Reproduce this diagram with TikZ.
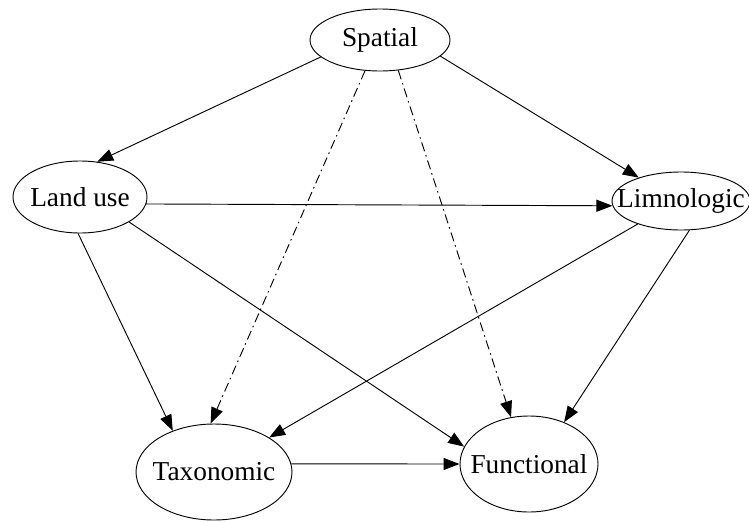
\documentclass[tikz,border=0pt]{standalone}
\usepackage{fontspec}
\setmainfont{Liberation Serif}
\usetikzlibrary{shapes.geometric,arrows.meta}
\begin{document}
\begin{tikzpicture}[x=0.75pt,y=-0.75pt,
  ell/.style={draw,ellipse,inner sep=0pt,line width=0.7pt},
  lbl/.style={inner sep=0pt,font=\fontsize{20.5}{24}\selectfont},
  edge/.style={line width=0.7pt,-{Triangle[length=12pt,width=9pt]}},
  dashdot/.style={dash pattern=on 7pt off 3pt on 1.2pt off 3pt}]
\useasboundingbox (0,0) rectangle (749,521);
\node[ell,minimum width=105pt,minimum height=46.5pt] (sp) at (380,40) {};
\node[lbl] (spt) at (sp) {Spatial};
\node[ell,minimum width=100.5pt,minimum height=54pt] (lu) at (80,197) {};
\node[lbl] (lut) at (lu) {Land use};
\node[ell,minimum width=103.5pt,minimum height=43.5pt] (li) at (681,201) {};
\node[lbl] (lit) at (li) {Limnologic};
\node[ell,minimum width=117pt,minimum height=72pt] (ta) at (214,472) {};
\node[lbl] (tat) at (ta) {Taxonomic};
\node[ell,minimum width=103.5pt,minimum height=72pt] (fu) at (529,464) {};
\node[lbl] (fut) at (fu) {Functional};

\draw[edge] (sp.-164) -- (lu.64);
\draw[edge] (sp.-15.6) -- (li.151.5);
\draw[edge,dashdot] (sp.-116.6) -- (ta.94.6);
\draw[edge,dashdot] (sp.-59) -- (fu.111);
\draw[edge] (lu.-6.8) -- (li.-176.7);
\draw[edge] (lu.-93) -- (ta.135);
\draw[edge] (lu.-27) -- (fu.165);
\draw[edge] (li.-152) -- (ta.32);
\draw[edge] (li.-74) -- (fu.50);
\draw[edge] (ta.6) -- (fu.180);
\end{tikzpicture}
\end{document}
